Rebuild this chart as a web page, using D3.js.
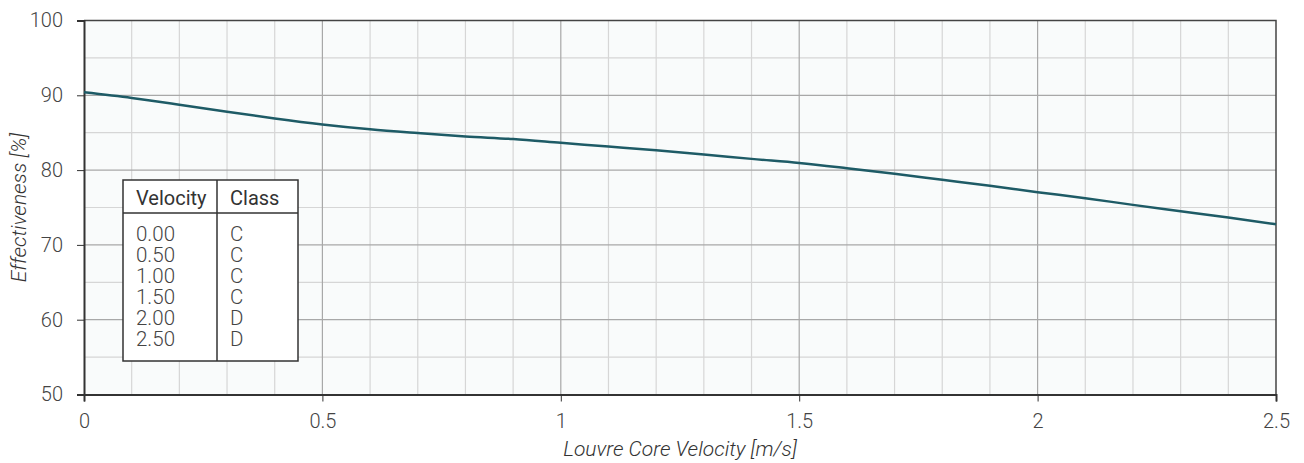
<!DOCTYPE html>
<html>
<head>
<meta charset="utf-8">
<script src="https://cdn.jsdelivr.net/npm/d3@7"></script>
<style>
  body { margin: 0; background: #fff; }
  svg { font-family: Roboto, "Noto Sans", sans-serif; }
  .tick text { fill: #444; font-size: 20px; font-weight: 300; }
  .axis path, .axis line { stroke: #333; }
</style>
</head>
<body>
<div id="chart"></div>
<script>
// Curve, every 0.1 m/s
var velocity = [0, 0.1, 0.2, 0.3, 0.4, 0.5, 0.6, 0.7, 0.8, 0.9, 1.0, 1.1, 1.2, 1.3, 1.4,
                1.5, 1.6, 1.7, 1.8, 1.9, 2.0, 2.1, 2.2, 2.3, 2.4, 2.5];
var effectiveness = [90.4, 89.65, 88.75, 87.8, 86.9, 86.1, 85.45, 84.95, 84.5, 84.15, 83.65,
                     83.15, 82.65, 82.1, 81.5, 80.95, 80.25, 79.5, 78.7, 77.9, 77.05,
                     76.25, 75.35, 74.5, 73.65, 72.75];

// Class table
var tableVelocity = ["0.00", "0.50", "1.00", "1.50", "2.00", "2.50"];
var tableClass = ["C", "C", "C", "C", "D", "D"];

var xTicks = [0, 0.5, 1, 1.5, 2, 2.5];
var yTicks = [50, 60, 70, 80, 90, 100];

var width = 1304,
    height = 463,
    margin = { top: 20.5, right: 28, bottom: 68.5, left: 84 };

var w = width - margin.left - margin.right,
    h = height - margin.top - margin.bottom;

var x = d3.scaleLinear().domain([0, 2.5]).range([0, w]);
var y = d3.scaleLinear().domain([50, 100]).range([h, 0]);

var svg = d3.select("#chart").append("svg")
    .attr("width", width)
    .attr("height", height)
    .append("g")
    .attr("transform", "translate(" + margin.left + "," + margin.top + ")");

// plot background
svg.append("rect")
    .attr("width", w)
    .attr("height", h)
    .style("fill", "#f9fbfb");

// minor grid
svg.append("g").selectAll("line")
    .data(d3.range(1, 25).map(d => d / 10).filter(d => Math.round(d * 10) % 5 !== 0))
    .enter().append("line")
    .attr("x1", d => x(d)).attr("x2", d => x(d))
    .attr("y1", 0).attr("y2", h)
    .style("stroke", "#d6d6d6").style("stroke-width", 1.2);

svg.append("g").selectAll("line")
    .data([55, 65, 75, 85, 95])
    .enter().append("line")
    .attr("y1", d => y(d)).attr("y2", d => y(d))
    .attr("x1", 0).attr("x2", w)
    .style("stroke", "#d6d6d6").style("stroke-width", 1.2);

// major grid
svg.append("g").selectAll("line")
    .data(xTicks.slice(1, -1))
    .enter().append("line")
    .attr("x1", d => x(d)).attr("x2", d => x(d))
    .attr("y1", 0).attr("y2", h)
    .style("stroke", "#a8a8a8").style("stroke-width", 1.2);

svg.append("g").selectAll("line")
    .data(yTicks.slice(1, -1))
    .enter().append("line")
    .attr("y1", d => y(d)).attr("y2", d => y(d))
    .attr("x1", 0).attr("x2", w)
    .style("stroke", "#a8a8a8").style("stroke-width", 1.2);

// top / right frame
svg.append("path")
    .attr("d", "M0,0H" + w + "V" + h)
    .style("fill", "none")
    .style("stroke", "#444")
    .style("stroke-width", 1.5);

// axes
svg.append("g")
    .attr("class", "axis")
    .attr("transform", "translate(0," + h + ")")
    .call(d3.axisBottom(x).tickValues(xTicks).tickFormat(d3.format("")).tickSize(7).tickPadding(12));

svg.append("g")
    .attr("class", "axis")
    .call(d3.axisLeft(y).tickValues(yTicks).tickSize(7).tickPadding(14));

svg.selectAll(".axis .domain").style("stroke-width", 2);
svg.selectAll(".axis text").style("font-family", "Roboto");

// line
var line = d3.line()
    .x((d, i) => x(velocity[i]))
    .y(d => y(d))
    .curve(d3.curveMonotoneX);

svg.append("path")
    .datum(effectiveness)
    .attr("d", line)
    .style("fill", "none")
    .style("stroke", "#1e5b66")
    .style("stroke-width", 2.5);

// axis titles
svg.append("text")
    .attr("x", w / 2)
    .attr("y", h + 61)
    .attr("text-anchor", "middle")
    .style("font-style", "italic")
    .style("font-weight", 300)
    .style("font-size", "21px")
    .style("fill", "#333")
    .text("Louvre Core Velocity [m/s]");

svg.append("text")
    .attr("transform", "translate(-58," + (h / 2) + ") rotate(-90)")
    .attr("text-anchor", "middle")
    .style("font-style", "italic")
    .style("font-weight", 300)
    .style("font-size", "21px")
    .style("fill", "#333")
    .text("Effectiveness [%]");

// class table
var table = svg.append("g")
    .attr("transform", "translate(" + (123 - margin.left) + "," + (180 - margin.top) + ")");

var tw = 175, th = 181, colX = 94, headH = 33;

table.append("rect")
    .attr("width", tw).attr("height", th)
    .style("fill", "#fff")
    .style("stroke", "#333")
    .style("stroke-width", 1.5);

table.append("line")
    .attr("x1", 0).attr("x2", tw).attr("y1", headH).attr("y2", headH)
    .style("stroke", "#333").style("stroke-width", 1.5);

table.append("line")
    .attr("x1", colX).attr("x2", colX).attr("y1", 0).attr("y2", th)
    .style("stroke", "#333").style("stroke-width", 1.5);

table.append("text")
    .attr("x", 13).attr("y", 25)
    .style("font-size", "20px").style("fill", "#333")
    .text("Velocity");

table.append("text")
    .attr("x", colX + 13).attr("y", 25)
    .style("font-size", "20px").style("fill", "#333")
    .text("Class");

table.selectAll(".vel")
    .data(tableVelocity)
    .enter().append("text")
    .attr("class", "vel")
    .attr("x", 13)
    .attr("y", (d, i) => 61 + i * 21)
    .style("font-size", "20.5px").style("font-weight", 300).style("fill", "#444")
    .text(d => d);

table.selectAll(".cls")
    .data(tableClass)
    .enter().append("text")
    .attr("class", "cls")
    .attr("x", colX + 13)
    .attr("y", (d, i) => 61 + i * 21)
    .style("font-size", "20.5px").style("font-weight", 300).style("fill", "#444")
    .text(d => d);
</script>
</body>
</html>
